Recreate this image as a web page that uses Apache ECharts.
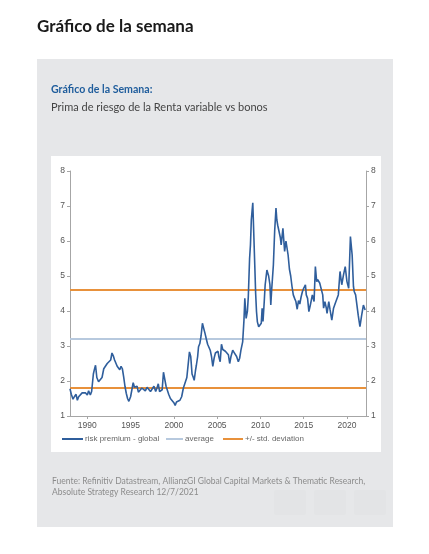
<!DOCTYPE html>
<html>
<head>
<meta charset="utf-8">
<script src="https://cdn.jsdelivr.net/npm/echarts@6/dist/echarts.min.js"></script>
<style>
html,body{margin:0;padding:0;background:#fff;}
#c{width:429px;height:554px;}
</style>
</head>
<body>
<div id="c"></div>
<script>
// ---- data ----
const years = [
1988.0,1988.15,1988.35,1988.5,1988.7,1988.85,1989.0,1989.2,1989.4,1989.6,1989.8,1990.0,1990.15,1990.35,1990.5,1990.6,
1990.7,1990.8,1990.95,1991.1,1991.3,1991.5,1991.7,1991.9,1992.1,1992.3,1992.5,1992.7,1992.85,1993.0,1993.15,1993.3,
1993.45,1993.6,1993.75,1993.9,1994.05,1994.2,1994.35,1994.5,1994.65,1994.8,1995.0,1995.15,1995.3,1995.45,1995.6,1995.75,
1995.9,1996.1,1996.3,1996.5,1996.7,1996.9,1997.1,1997.3,1997.5,1997.7,1997.9,1998.05,1998.2,1998.35,1998.5,1998.65,
1998.8,1998.95,1999.1,1999.25,1999.4,1999.6,1999.8,2000.0,2000.15,2000.3,2000.5,2000.7,2000.9,2001.1,2001.3,2001.5,
2001.65,2001.8,2001.95,2002.1,2002.25,2002.35,2002.5,2002.6,2002.75,2002.85,2003.0,2003.15,2003.3,2003.45,2003.6,2003.75,
2003.9,2004.05,2004.2,2004.35,2004.5,2004.65,2004.8,2004.95,2005.1,2005.2,2005.35,2005.5,2005.65,2005.8,2005.95,2006.1,
2006.3,2006.45,2006.6,2006.8,2006.95,2007.1,2007.25,2007.45,2007.6,2007.75,2007.95,2008.1,2008.2,2008.35,2008.5,2008.6,
2008.75,2008.85,2008.95,2009.05,2009.12,2009.25,2009.35,2009.45,2009.55,2009.65,2009.8,2009.95,2010.1,2010.2,2010.3,2010.45,
2010.55,2010.75,2010.95,2011.1,2011.2,2011.3,2011.5,2011.65,2011.8,2011.9,2012.0,2012.15,2012.3,2012.4,2012.6,2012.8,
2012.95,2013.05,2013.2,2013.35,2013.5,2013.65,2013.8,2013.95,2014.1,2014.25,2014.4,2014.55,2014.7,2014.85,2015.0,2015.2,
2015.3,2015.45,2015.6,2015.75,2015.85,2016.0,2016.2,2016.35,2016.5,2016.6,2016.7,2016.85,2017.0,2017.2,2017.3,2017.45,
2017.6,2017.7,2017.9,2018.05,2018.25,2018.45,2018.65,2018.85,2019.0,2019.2,2019.4,2019.6,2019.8,2020.0,2020.2,2020.4,
2020.6,2020.75,2020.85,2021.0,2021.1,2021.3,2021.5,2021.7,2021.9,2022.1
];
const riskPremium = [
1.78,1.62,1.48,1.55,1.62,1.45,1.55,1.60,1.66,1.62,1.66,1.60,1.72,1.60,1.70,1.73,
2.20,2.31,2.45,2.10,1.98,1.95,2.10,2.35,2.38,2.50,2.55,2.60,2.80,2.72,2.60,2.58,
2.42,2.45,2.32,2.42,2.35,2.12,1.85,1.65,1.50,1.42,1.55,1.75,1.95,1.82,1.80,1.85,
1.68,1.72,1.80,1.75,1.72,1.82,1.78,1.70,1.75,1.85,1.70,1.80,1.92,1.70,1.65,1.75,
2.25,2.05,1.85,1.80,1.62,1.50,1.45,1.38,1.30,1.40,1.38,1.45,1.55,1.80,1.85,2.10,
2.15,2.83,2.70,2.20,2.10,2.02,2.30,2.45,2.70,2.98,3.07,3.30,3.65,3.50,3.36,3.20,
3.05,3.00,2.88,2.70,2.42,2.65,2.80,2.75,2.85,2.69,2.55,3.05,2.90,2.95,2.85,2.80,
2.75,2.50,2.70,2.88,2.82,2.78,2.70,2.55,2.65,2.88,3.12,3.74,4.36,3.79,4.00,4.40,
5.50,5.89,6.60,6.90,7.09,6.08,5.30,4.50,3.98,3.69,3.55,3.60,3.65,4.08,3.70,4.30,
4.75,5.17,5.00,4.75,4.17,4.60,5.32,6.30,6.94,6.60,6.45,6.45,6.10,5.89,6.36,5.70,
6.00,5.98,5.60,5.20,5.00,4.70,4.46,4.36,4.27,4.05,4.30,4.20,4.40,4.55,4.65,4.75,
4.46,4.36,3.98,4.15,4.27,4.46,4.27,5.27,4.84,4.90,4.89,4.80,4.75,4.46,4.08,4.27,
4.10,3.93,4.27,4.03,3.74,4.08,4.22,4.27,4.46,5.13,4.75,5.03,5.27,4.84,4.65,6.13,
5.60,4.70,4.55,4.46,4.27,3.88,3.55,3.88,4.17,4.03
];
const averageValue = 3.2;
const stdUpper = 4.6;
const stdLower = 1.8;
const xTickYears = [1990,1995,2000,2005,2010,2015,2020];
const xStart = 1988, xEnd = 2022.2;
const seriesNames = ['risk premium - global','average','+/- std. deviation'];

// ---- chart ----
const chart = echarts.init(document.getElementById('c'), null, {renderer:'canvas'});
const axisCol = '#a6a6a6';
const labCol = '#555';
const labFont = 'Liberation Sans, Arial, sans-serif';

function yAxisDef(pos){
  return {
    type:'value', position:pos, min:1, max:8, interval:1,
    axisLine:{show:true, lineStyle:{color:axisCol, width:1}},
    axisTick:{show:true, length:3, lineStyle:{color:axisCol}},
    axisLabel:{color:labCol, fontSize:8.5, fontFamily:labFont, margin:5},
    splitLine:{show:false}
  };
}

const legendText = {color:'#666', fontSize:8, fontFamily:labFont, padding:[0,0,0,-3]};

const option = {
  backgroundColor:'#ffffff',
  animation:false,
  graphic:[
    {type:'text', left:37, top:18, z:0, style:{text:'Gráfico de la semana', fill:'#1a1a1a', font:'bold 17px Lato, "Open Sans", sans-serif'}},
    {type:'rect', z:-10, shape:{x:37, y:59, width:356, height:468}, style:{fill:'#e6e7e9'}},
    {type:'rect', z:-9, shape:{x:51, y:156, width:330, height:296}, style:{fill:'#ffffff'}},
    {type:'text', left:51, top:84, z:0, style:{text:'Gráfico de la Semana:', fill:'#1f5d9c', font:'bold 10.6px Lato, "Open Sans", sans-serif'}},
    {type:'text', left:51, top:102, z:0, style:{text:'Prima de riesgo de la Renta variable vs bonos', fill:'#444', font:'11px Lato, "Open Sans", sans-serif'}},
    {type:'text', left:52, top:476, z:0, style:{text:'Fuente: Refinitiv Datastream, AllianzGI Global Capital Markets & Thematic Research,\nAbsolute Strategy Research 12/7/2021', fill:'#8c8c8c', font:'8.5px Lato, "Open Sans", sans-serif', lineHeight:11}},
    {type:'rect', z:-8, shape:{x:274, y:490, width:32, height:25, r:2}, style:{fill:'#e3e4e6'}},
    {type:'rect', z:-8, shape:{x:314, y:490, width:32, height:25, r:2}, style:{fill:'#e3e4e6'}},
    {type:'rect', z:-8, shape:{x:354, y:490, width:32, height:25, r:2}, style:{fill:'#e3e4e6'}}
  ],
  grid:{left:70, right:63, top:171, bottom:138, containLabel:false},
  legend:[
    {left:57, top:430, itemWidth:21, itemHeight:2, itemGap:0, icon:'rect', data:[seriesNames[0]], textStyle:legendText},
    {left:161, top:430, itemWidth:17, itemHeight:2, itemGap:0, icon:'rect', data:[seriesNames[1]], textStyle:legendText},
    {left:218, top:430, itemWidth:20, itemHeight:2, itemGap:0, icon:'rect', data:[seriesNames[2]], textStyle:legendText}
  ],
  xAxis:{
    type:'value', min:xStart, max:xEnd,
    axisLine:{show:true, lineStyle:{color:axisCol}},
    axisTick:{show:true, length:3, customValues:xTickYears, lineStyle:{color:axisCol}},
    axisLabel:{customValues:xTickYears, color:labCol, fontSize:8.5, fontFamily:labFont, margin:5, formatter:v=>String(Math.round(v))},
    splitLine:{show:false}
  },
  yAxis:[yAxisDef('left'), yAxisDef('right')],
  series:[
    {name:seriesNames[1], type:'line', showSymbol:false, silent:true, z:1,
     data:[[xStart,averageValue],[xEnd,averageValue]],
     lineStyle:{color:'#b7c9de', width:2}, itemStyle:{color:'#b7c9de'}},
    {name:seriesNames[2], type:'line', showSymbol:false, silent:true, z:1,
     data:[[xStart,stdUpper],[xEnd,stdUpper]],
     lineStyle:{color:'#e8913b', width:2}, itemStyle:{color:'#e8913b'}},
    {name:seriesNames[2], type:'line', showSymbol:false, silent:true, z:1,
     data:[[xStart,stdLower],[xEnd,stdLower]],
     lineStyle:{color:'#e8913b', width:2}, itemStyle:{color:'#e8913b'}},
    {name:seriesNames[0], type:'line', showSymbol:false, z:3,
     data:years.map((y,i)=>[y, riskPremium[i]]),
     lineStyle:{color:'#2f5e9c', width:1.6}, itemStyle:{color:'#2f5e9c'}}
  ]
};
chart.setOption(option);
</script>
</body>
</html>
